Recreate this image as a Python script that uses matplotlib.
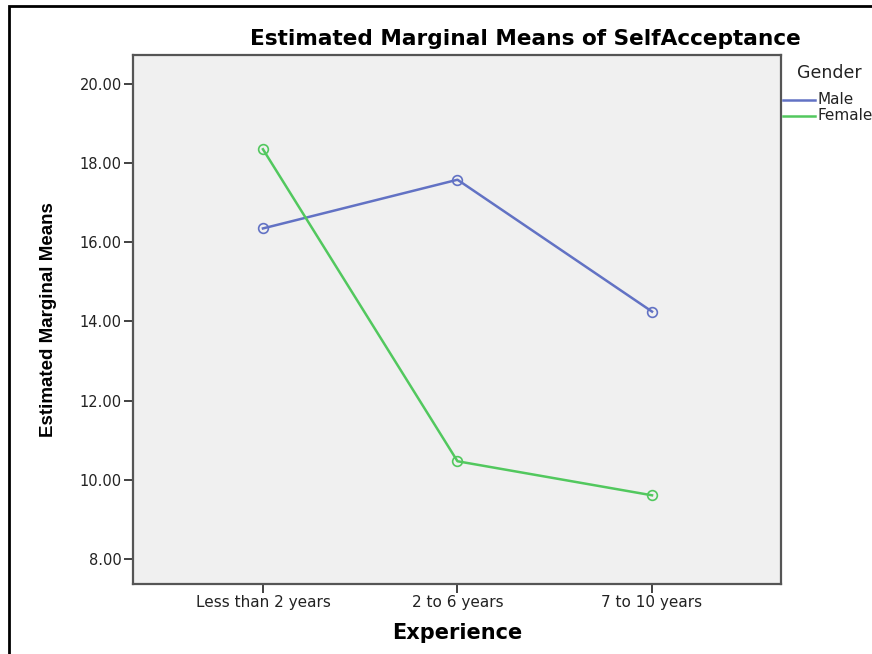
import matplotlib
matplotlib.use('Agg')
import matplotlib.pyplot as plt
from matplotlib.patches import Rectangle
from matplotlib.lines import Line2D

plt.rcParams['font.family'] = ['DejaVu Sans']

categories = ['Less than 2 years', '2 to 6 years', '7 to 10 years']
male = [16.35, 17.58, 14.25]
female = [18.35, 10.47, 9.61]
yticks = [8, 10, 12, 14, 16, 18, 20]
male_color = '#6272c4'
female_color = '#52c85e'

W, H = 872, 654
fig = plt.figure(figsize=(W / 100, H / 100), dpi=100)

# axes box in pixel coords
left, right, top, bottom = 133, 781, 55, 584
ax = fig.add_axes([left / W, 1 - bottom / H, (right - left) / W, (bottom - top) / H])
ax.set_facecolor('#f0f0f0')

x = list(range(len(categories)))
ax.plot(x, male, color=male_color, lw=1.8, marker='o', ms=7, mfc='none', mew=1.2)
ax.plot(x, female, color=female_color, lw=1.8, marker='o', ms=7, mfc='none', mew=1.2)

ax.set_xlim(-0.668, 2.663)
ax.set_ylim(7.37, 20.73)
ax.set_xticks(x)
ax.set_xticklabels(categories, fontsize=11, color='#222222')
ax.set_yticks(yticks)
ax.set_yticklabels(['%.2f' % v for v in yticks], fontsize=10.5, color='#222222')
ax.tick_params(direction='out', length=6.5, width=1.3, color='#333333', pad=1.5)
for s in ax.spines.values():
    s.set_color('#555555')
    s.set_linewidth(1.6)

ax.set_xlabel('Experience', fontsize=15, fontweight='bold', va='center')
ax.xaxis.set_label_coords(0.5, (bottom - 633) / (bottom - top))
ax.set_ylabel('Estimated Marginal Means', fontsize=13.5, fontweight='bold',
              family='Liberation Sans', va='center')
ax.yaxis.set_label_coords((48 - left) / (right - left), 0.5)

fig.text(525 / W, 1 - 39 / H, 'Estimated Marginal Means of SelfAcceptance',
         ha='center', va='center', fontsize=15.6, fontweight='bold')

# legend
fig.text(797 / W, 1 - 73 / H, 'Gender', ha='left', va='center', fontsize=12.5, color='#222222')
for yy, lab, c in [(100, 'Male', male_color), (116, 'Female', female_color)]:
    fig.add_artist(Line2D([783 / W, 815 / W], [1 - yy / H] * 2, transform=fig.transFigure,
                          color=c, lw=1.8))
    fig.text(817 / W, 1 - yy / H, lab, ha='left', va='center', fontsize=11, color='#222222')

# outer frame
fig.patches.append(Rectangle((9 / W, -0.1), 1.2, 1 - 6 / H + 0.1, transform=fig.transFigure,
                             fill=False, edgecolor='black', lw=2))

fig.savefig('out.png', dpi=100)
